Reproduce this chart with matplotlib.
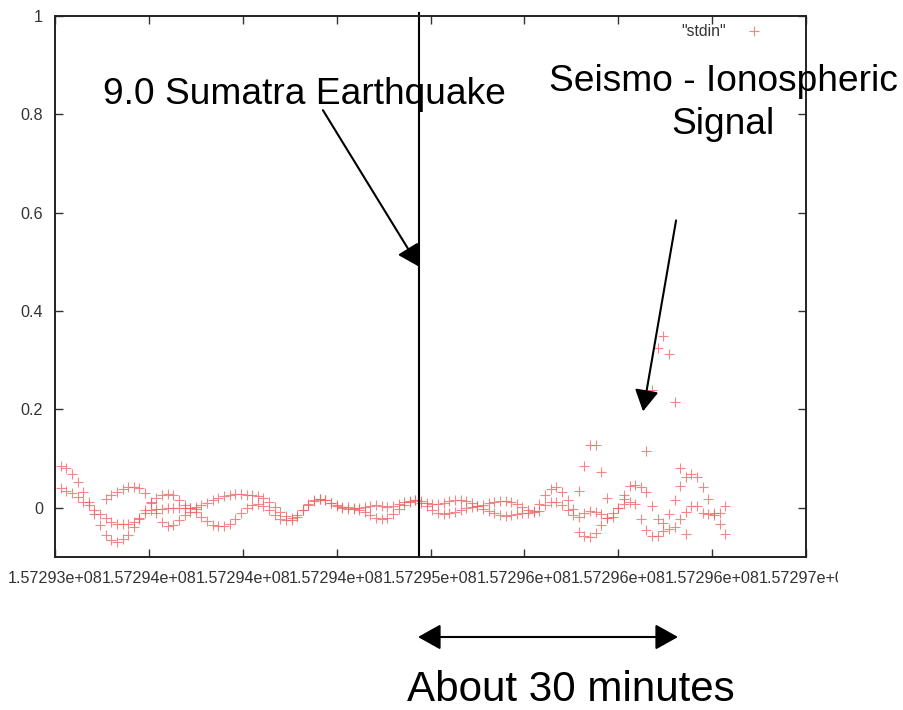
import numpy as np
import matplotlib
matplotlib.use("Agg")
import matplotlib.pyplot as plt
from matplotlib.ticker import FormatStrFormatter
from matplotlib.transforms import Bbox, TransformedBbox

plt.rcParams['font.family'] = ['Liberation Sans', 'DejaVu Sans']

W, H = 904, 710

# samples every 30 s, starting at T0
T0 = 157293030
DT = 30

# two long tracks (one value per sample)
track_a = [0.085, 0.080, 0.068, 0.052, 0.033, 0.012, -0.012, -0.035, -0.055, -0.066,
           -0.069, -0.064, -0.055, -0.040, -0.022, -0.005, 0.010, 0.020, 0.027, 0.028,
           0.025, 0.016, 0.006, 0.000, -0.008, -0.018, -0.027, -0.034, -0.038, -0.038,
           -0.033, -0.022, -0.010, 0.000, 0.006, 0.008, 0.004, -0.005, -0.014, -0.022,
           -0.025, -0.025, -0.018, -0.005, 0.008, 0.016, 0.018, 0.016, 0.010, 0.005,
           0.002, 0.001, 0.000, 0.000, 0.002, 0.004, 0.005, 0.004, 0.002, 0.003,
           0.008, 0.012, 0.014, 0.015, 0.013, 0.010, 0.008, 0.008, 0.010, 0.013,
           0.015, 0.016, 0.014, 0.010, 0.004, -0.002, -0.006, -0.010, -0.014, -0.016,
           -0.015, -0.012, -0.010, -0.010, -0.006, 0.008, 0.025, 0.038, 0.042, 0.032,
           0.015, -0.003, -0.018, -0.010, -0.006, -0.008, -0.012, -0.020, -0.018, 0.000,
           0.025, 0.045, 0.047, 0.043, 0.032, 0.004, -0.022, -0.030, -0.012, 0.016,
           0.080, 0.063, 0.068, 0.063, 0.043, 0.018, -0.010, -0.010, -0.053]

track_b = [0.040, 0.035, 0.030, 0.022, 0.012, 0.005, -0.005, -0.012, -0.020, -0.028,
           -0.032, -0.033, -0.032, -0.028, -0.020, -0.010, -0.005, -0.003, -0.002, 0.000,
           0.000, 0.000, 0.000, 0.000, 0.002, 0.005, 0.010, 0.015, 0.020, 0.024,
           0.027, 0.028, 0.028, 0.027, 0.026, 0.024, 0.020, 0.012, 0.002, -0.008,
           -0.016, -0.020, -0.015, -0.005, 0.006, 0.014, 0.018, 0.016, 0.010, 0.004,
           0.000, -0.002, -0.002, -0.004, -0.008, -0.014, -0.020, -0.022, -0.020, -0.012,
           -0.002, 0.006, 0.012, 0.015, 0.010, 0.004, -0.004, -0.010, -0.012, -0.011,
           -0.008, -0.004, -0.001, 0.002, 0.004, 0.006, 0.010, 0.012, 0.013, 0.013,
           0.011, 0.007, 0.002, -0.004, -0.008, -0.006, 0.005, 0.012, 0.012, 0.005,
           -0.005, -0.015, -0.050, -0.058, -0.060, -0.052, -0.035, -0.020, -0.010, 0.000,
           0.008, 0.012, 0.008, -0.022, -0.045, -0.057, -0.057, -0.048, -0.043, -0.040,
           -0.022, -0.008, 0.004, 0.004, -0.010, -0.012, -0.014, -0.033, 0.004]

# short track near the start
track_c_start = 8
track_c = [0.018, 0.025, 0.032, 0.038, 0.042, 0.043, 0.040, 0.030, 0.012, -0.010,
           -0.028, -0.038, -0.035, -0.025, -0.015, -0.008, -0.003]

# scattered points of the disturbance
extra_idx = [92, 93, 94, 95, 96, 97, 100, 104, 105, 106, 107, 108, 109, 110, 111]
extra_val = [0.035, 0.084, 0.128, 0.128, 0.073, 0.020, 0.018, 0.116, 0.240, 0.324,
             0.350, 0.312, 0.214, 0.045, -0.053]

QUAKE_T = 157294939
XTICKS = [157293000, 157293500, 157294000, 157294500, 157295000,
          157295500, 157296000, 157296500, 157297000]
YTICKS = [0, 0.2, 0.4, 0.6, 0.8, 1]

t_a = T0 + DT * np.arange(len(track_a))
t_b = T0 + DT * np.arange(len(track_b))
t_c = T0 + DT * (track_c_start + np.arange(len(track_c)))
t_e = T0 + DT * np.array(extra_idx)

t_all = np.concatenate([t_a, t_b, t_c, t_e])
y_all = np.concatenate([track_a, track_b, track_c, extra_val])

fig = plt.figure(figsize=(W / 100, H / 100), dpi=100)
ax = fig.add_axes([55 / W, 153 / H, 751 / W, 541.3 / H])

ax.plot(t_all, y_all, '+', color='#ef5f5f', ms=7.5, mew=0.8, alpha=0.75,
        label='"stdin"')

ax.axvline(QUAKE_T, ymin=0, ymax=1.005, clip_on=False, color='black', lw=1.5)

ax.set_xlim(XTICKS[0], XTICKS[-1])
ax.set_ylim(-0.1, 1.0)
ax.set_xticks(XTICKS)
ax.set_yticks(YTICKS)
ax.xaxis.set_major_formatter(FormatStrFormatter('%g'))
ax.yaxis.set_major_formatter(FormatStrFormatter('%g'))
ax.tick_params(direction='in', top=True, right=True, length=5.8, width=1,
               labelsize=11.6, colors='#333333')
ax.tick_params(axis='x', pad=10)
ax.tick_params(axis='y', pad=8.5)
for s in ax.spines.values():
    s.set_linewidth(1.4)
    s.set_color('#222222')

# last tick label is cut off at the picture edge in the original
clip = TransformedBbox(Bbox([[0, 0], [838 / W, 1]]), fig.transFigure)
lbl = ax.get_xticklabels()[-1]
lbl.set_clip_box(clip)
lbl.set_clip_on(True)

ax.legend(loc='center right', bbox_to_anchor=(774 / W, 1 - 32 / H),
          bbox_transform=fig.transFigure, frameon=False, markerfirst=False,
          numpoints=1, handlelength=1.5, handletextpad=1.05, borderpad=0,
          fontsize=11.3, labelcolor='#333333')

arrow = dict(arrowstyle='-|>,head_length=0.5,head_width=0.28',
             color='black', lw=1.5, mutation_scale=26, shrinkA=0, shrinkB=0)

# earthquake label and arrow
fig.text(304 / W, 1 - 95 / H, '9.0 Sumatra Earthquake', fontsize=26.7,
         ha='center', va='center')
ax.annotate('', xy=(QUAKE_T, 0.49), xytext=(157294427, 0.808),
            arrowprops=arrow, annotation_clip=False)

# signal label and arrow
fig.text(723 / W, 1 - 103 / H, 'Seismo - Ionospheric\nSignal', fontsize=26.7,
         ha='center', va='center', multialignment='center', linespacing=1.32)
ax.annotate('', xy=(157296132, 0.196), xytext=(157296308, 0.584),
            arrowprops=arrow, annotation_clip=False)

# time span arrow below the chart
ax.annotate('', xy=(678, H - 637), xytext=(418, H - 637),
            xycoords='figure pixels', textcoords='figure pixels',
            arrowprops=dict(arrowstyle='<|-|>,head_length=0.5,head_width=0.28',
                            color='black', lw=1.5, mutation_scale=28,
                            shrinkA=0, shrinkB=0))
fig.text(571 / W, 1 - 690 / H, 'About 30 minutes', fontsize=30.3,
         ha='center', va='center')

fig.savefig('out.png', dpi=100)
